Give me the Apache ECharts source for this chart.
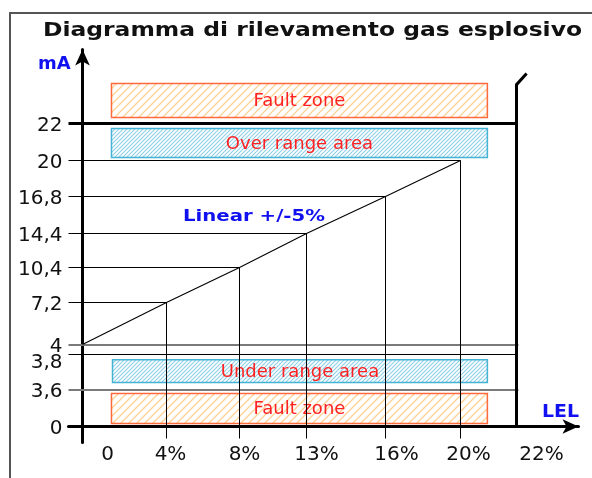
<!DOCTYPE html>
<html><head><meta charset="utf-8">
<script src="https://cdn.jsdelivr.net/npm/echarts@6/dist/echarts.min.js"></script>
<style>html,body{margin:0;padding:0;background:#fff}#c{width:592px;height:478px}</style>
</head><body><div id="c"></div>
<script>
// ---------- data ----------
const titleText = 'Diagramma di rilevamento gas esplosivo';
const yName = 'mA';
const xName = 'LEL';
const curveLabel = 'Linear +/-5%';

const xTicks = [0, 4, 8, 13, 16, 20, 22];            // % LEL
const xTickLabels = ['0', '4%', '8%', '13%', '16%', '20%', '22%'];
const yTicks = [0, 3.6, 3.8, 4, 7.2, 10.4, 14.4, 16.8, 20, 22];   // mA
const yTickLabels = ['0', '3,6', '3,8', '4', '7,2', '10,4', '14,4', '16,8', '20', '22'];

const curveLEL = [0, 4, 8, 13, 16, 20];
const curveMA = [4, 7.2, 10.4, 14.4, 16.8, 20];

const bandNames = ['Fault zone', 'Over range area', 'Under range area', 'Fault zone'];
const bandKinds = ['fault', 'range', 'range', 'fault'];
const bandLELFrom = [1.38, 1.38, 1.43, 1.38];
const bandLELTo = [20.96, 20.96, 20.96, 20.96];
const bandMAFrom = [22.32, 20.16, 3.64, 0.29];
const bandMATo = [24.16, 21.73, 3.77, 3.21];

const grayLevelsMA = [4, 3.6];
const blackLevelsMA = [3.8];
const limitMA = 22;
const limitLEL = 22;
const breakTopMA = [24.1, 24.7];
const breakTopLEL = [22, 22.36];
const grayLineEndLEL = 22.07;

// ---------- schematic layout (non-linear drawing positions of ticks) ----------
const xSlot = [0, 84, 157, 224, 303, 378, 434];
const ySlot = [0, 37, 72, 82, 124, 159, 193, 230, 266, 303];
const xLabelSlot = [25, 88, 162, 234, 314, 386, 459];

function interp(v, src, dst) {
  const n = src.length;
  let i = 0;
  if (v >= src[n - 1]) i = n - 2;
  else if (v > src[0]) { while (v > src[i + 1]) i++; }
  const t = (v - src[i]) / (src[i + 1] - src[i]);
  return dst[i] + t * (dst[i + 1] - dst[i]);
}
const X = v => interp(v, xTicks, xSlot);
const Y = v => interp(v, yTicks, ySlot);
const P = (lel, ma) => [X(lel), Y(ma)];

function hatch(color, step, lw) {
  const c = document.createElement('canvas');
  c.width = step; c.height = step;
  const g = c.getContext('2d');
  g.strokeStyle = color; g.lineWidth = lw;
  g.beginPath();
  g.moveTo(0, step); g.lineTo(step, 0);
  g.moveTo(-2, 2); g.lineTo(2, -2);
  g.moveTo(step - 2, step + 2); g.lineTo(step + 2, step - 2);
  g.stroke();
  return c;
}
const patFault = hatch('#ffd294', 8, 1.3);
const patRange = hatch('#93d0e8', 4, 1.2);

function measure(text, font) {
  const g = document.createElement('canvas').getContext('2d');
  g.font = font;
  return g.measureText(text).width;
}
const titleFont = 'bold 19px "DejaVu Sans"';
const titleScale = 539 / measure(titleText, titleFont);
const curveFont = 'bold 16px "DejaVu Sans"';
const curveScale = 142 / measure(curveLabel, curveFont);
const nameFont = 'bold 18px "DejaVu Sans"';
const bandFont = '18px "DejaVu Sans"';

// ---------- series data ----------
const thin = [];
curveLEL.forEach((x, i) => {
  if (i === 0) return;
  thin.push({ coords: [[-14, Y(curveMA[i])], P(x, curveMA[i])] });
  thin.push({ coords: [P(x, 0), P(x, curveMA[i])] });
});
blackLevelsMA.forEach(m => thin.push({ coords: [[-14, Y(m)], P(limitLEL, m)] }));

const gray = grayLevelsMA.map(m => ({ coords: [[-14, Y(m)], P(grayLineEndLEL, m)] }));
const thick = [{ coords: [[-14, Y(limitMA)], P(limitLEL, limitMA)] }];
const breakLine = [{ coords: [P(limitLEL, 0), P(breakTopLEL[0], breakTopMA[0]), P(breakTopLEL[1], breakTopMA[1])] }];
const curve = [{ coords: curveLEL.map((x, i) => P(x, curveMA[i])) }];

const bandData = bandNames.map((n, i) => [X(bandLELFrom[i]), X(bandLELTo[i]), Y(bandMAFrom[i]), Y(bandMATo[i]), i]);

const chart = echarts.init(document.getElementById('c'));
const txt = '#111';
chart.setOption({
  animation: false,
  backgroundColor: '#fff',
  grid: { left: 68.5, right: 13.5, top: 49.5, bottom: 35.5, containLabel: false, outerBoundsMode: 'none' },
  xAxis: {
    type: 'value', min: -14, max: 496,
    splitLine: { show: false },
    axisLine: { onZero: true, symbol: ['none', 'arrow'], symbolSize: [11, 16], lineStyle: { color: '#000', width: 3 } },
    axisTick: { show: true, customValues: xSlot.slice(1, 6), length: 12, lineStyle: { color: '#000', width: 1 } },
    axisLabel: {
      customValues: xLabelSlot, margin: 2, color: txt, fontSize: 20, fontFamily: 'DejaVu Sans',
      formatter: v => xTickLabels[xLabelSlot.indexOf(v)]
    }
  },
  yAxis: {
    type: 'value', min: -16, max: 377,
    splitLine: { show: false },
    axisLine: { onZero: true, symbol: ['none', 'arrow'], symbolSize: [11, 16], lineStyle: { color: '#000', width: 3 } },
    axisTick: { show: false },
    axisLabel: {
      customValues: ySlot, margin: 6, color: txt, fontSize: 20, fontFamily: 'DejaVu Sans',
      formatter: v => {
        const i = ySlot.indexOf(v);
        return (yTickLabels[i] === '3,8' ? '{low|' : '{n|') + yTickLabels[i] + '}';
      },
      rich: {
        n: { fontSize: 20, fontFamily: 'DejaVu Sans', color: txt, padding: [4, 0, 0, 0] },
        low: { fontSize: 20, fontFamily: 'DejaVu Sans', color: txt, padding: [16, 0, 0, 0] }
      }
    }
  },
  series: [
    {
      type: 'custom', silent: true, z: 1,
      data: bandData,
      renderItem: (params, api) => {
        const i = api.value(4);
        const a = api.coord([api.value(0), api.value(3)]);
        const b = api.coord([api.value(1), api.value(2)]);
        const fault = bandKinds[i] === 'fault';
        return {
          type: 'group', children: [
            { type: 'rect', shape: { x: a[0], y: a[1], width: b[0] - a[0], height: b[1] - a[1] },
              style: { fill: { image: fault ? patFault : patRange, repeat: 'repeat' },
                       stroke: fault ? '#ff6a3a' : '#45b3d3', lineWidth: 1.5 } },
            { type: 'text', x: (a[0] + b[0]) / 2, y: (a[1] + b[1]) / 2 + 1,
              style: { text: bandNames[i], fill: '#ff2222', font: bandFont, align: 'center', verticalAlign: 'middle' } }
          ]
        };
      }
    },
    { type: 'lines', coordinateSystem: 'cartesian2d', silent: true, z: 2, data: gray,
      lineStyle: { color: '#7a7a7a', width: 2, opacity: 1 } },
    { type: 'lines', coordinateSystem: 'cartesian2d', silent: true, z: 2, data: thin,
      lineStyle: { color: '#000', width: 1, opacity: 1 } },
    { type: 'lines', coordinateSystem: 'cartesian2d', silent: true, z: 3, polyline: true, data: curve,
      lineStyle: { color: '#000', width: 1.1, opacity: 1 } },
    { type: 'lines', coordinateSystem: 'cartesian2d', silent: true, z: 3, data: thick,
      lineStyle: { color: '#000', width: 3, opacity: 1 } },
    { type: 'lines', coordinateSystem: 'cartesian2d', silent: true, z: 3, polyline: true, data: breakLine,
      lineStyle: { color: '#000', width: 3, opacity: 1, join: 'miter' } }
  ],
  graphic: [
    { type: 'polyline', shape: { points: [[10, 478], [10, 13], [592, 13]] }, style: { stroke: '#555', lineWidth: 2, fill: null }, silent: true },
    { type: 'text', x: 43, y: 31, scaleX: titleScale,
      style: { text: titleText, font: titleFont, fill: '#111', align: 'left', verticalAlign: 'middle' } },
    { type: 'text', x: 38, y: 64,
      style: { text: yName, font: nameFont, fill: '#1010f0', align: 'left', verticalAlign: 'middle' } },
    { type: 'text', x: 542, y: 412, scaleX: 1.05,
      style: { text: xName, font: nameFont, fill: '#1010f0', align: 'left', verticalAlign: 'middle' } },
    { type: 'text', x: 183, y: 217, scaleX: curveScale,
      style: { text: curveLabel, font: curveFont, fill: '#1010f0', align: 'left', verticalAlign: 'middle' } }
  ]
});
</script></body></html>
